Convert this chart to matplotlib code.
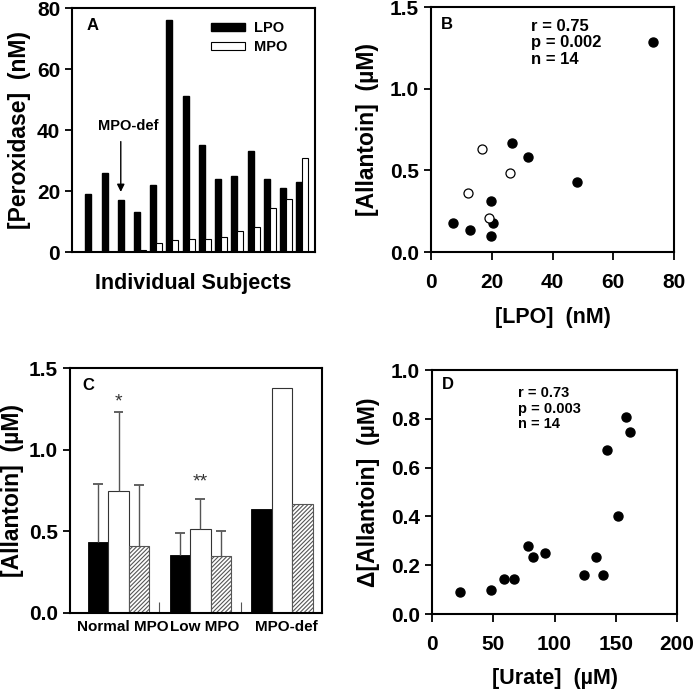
import matplotlib
matplotlib.use("Agg")
import matplotlib.pyplot as plt
import numpy as np

plt.rcParams['font.family'] = ['Liberation Sans', 'DejaVu Sans']
plt.rcParams['font.weight'] = 'bold'
plt.rcParams['hatch.color'] = '#444444'
plt.rcParams['hatch.linewidth'] = 0.8

# panel A: peroxidase per subject
lpo = [19, 26, 17, 13, 22, 76, 51, 35, 24, 25, 33, 24, 21, 23]
mpo = [0, 0, 0, 0.8, 3, 4, 4.2, 4.3, 4.8, 7, 8.2, 14.3, 17.5, 30.7]

# panel B: allantoin vs LPO
b_fill_x = [73.1, 26.8, 31.8, 48.1, 19.6, 7.3, 13.0, 20.4, 19.7]
b_fill_y = [1.285, 0.669, 0.579, 0.430, 0.313, 0.178, 0.133, 0.178, 0.098]
b_open_x = [16.9, 26.0, 12.3, 19.1]
b_open_y = [0.632, 0.481, 0.364, 0.209]

# panel C: allantoin by group
groups = ['Normal MPO', 'Low MPO', 'MPO-def']
c_black = [0.434, 0.356, 0.634]
c_white = [0.749, 0.516, 1.377]
c_hatch = [0.413, 0.346, 0.665]
c_black_err = [0.356, 0.135, 0]
c_white_err = [0.479, 0.184, 0]
c_hatch_err = [0.371, 0.155, 0]

# panel D: delta allantoin vs urate
d_x = [23.2, 48.0, 58.7, 66.8, 78.0, 82.1, 92.0, 124.1, 134.0, 139.2, 143.0, 151.7, 158.0, 161.3]
d_y = [0.089, 0.097, 0.145, 0.145, 0.280, 0.235, 0.250, 0.161, 0.235, 0.161, 0.671, 0.402, 0.806, 0.744]

W, H = 693, 691
fig = plt.figure(figsize=(W/100, H/100), dpi=100)

def px_axes(l, t, r, b):
    return fig.add_axes([l/W, 1-b/H, (r-l)/W, (b-t)/H])

def style(ax, xpad=3.5):
    for s in ax.spines.values():
        s.set_linewidth(1.5)
    ax.tick_params(width=1.3, length=5, labelsize=15)
    ax.tick_params(axis='x', length=6, pad=xpad)
    for lab in ax.get_xticklabels() + ax.get_yticklabels():
        lab.set_fontweight('bold')

# ---- A ----
axA = px_axes(72, 8, 315, 252)
xs = np.arange(len(lpo))
bw = 0.37
axA.bar(xs - bw/2, lpo, bw, color='black', edgecolor='black', label='LPO')
axA.bar(xs + bw/2, mpo, bw, color='white', edgecolor='black', linewidth=0.8, label='MPO')
axA.set_xlim(-1.19, 13.78)
axA.set_ylim(0, 80)
axA.set_yticks([0, 20, 40, 60, 80])
axA.set_xticks([])
style(axA)
axA.set_ylabel('[Peroxidase]  (nM)', fontsize=16.5, fontweight='bold', labelpad=4)
axA.set_xlabel('Individual Subjects', fontsize=15.5, fontweight='bold', labelpad=15)
axA.text(0.06, 0.93, 'A', transform=axA.transAxes, fontsize=12, fontweight='bold', va='center')
axA.text(2.3, 39, 'MPO-def', ha='center', va='bottom', fontsize=10.5, fontweight='bold')
axA.annotate('', xy=(2 - bw/2, 19.7), xytext=(2 - bw/2, 36.2),
             arrowprops=dict(arrowstyle='-|>', color='black', lw=1.0, mutation_scale=11,
                             shrinkA=0, shrinkB=0))
axA.legend(loc='upper left', bbox_to_anchor=(0.52, 1.0), frameon=False,
           handlelength=2.3, handleheight=0.55,
           labelspacing=0.35, handletextpad=0.6, prop={'weight': 'bold', 'size': 10.5})

# ---- B ----
axB = px_axes(431, 7, 674, 252)
axB.plot(b_fill_x, b_fill_y, 'o', color='black', markersize=6.5, linestyle='none')
axB.plot(b_open_x, b_open_y, 'o', markerfacecolor='white', markeredgecolor='black',
         markeredgewidth=0.9, markersize=6.5, linestyle='none')
axB.set_xlim(0, 80)
axB.set_ylim(0, 1.5)
axB.set_xticks([0, 20, 40, 60, 80])
axB.set_yticks([0.0, 0.5, 1.0, 1.5])
axB.set_yticklabels(['0.0', '0.5', '1.0', '1.5'])
style(axB, xpad=9)
axB.set_xlabel('[LPO]  (nM)', fontsize=15.5, fontweight='bold', labelpad=11)
axB.set_ylabel('[Allantoin]  (\u00b5M)', fontsize=16.5, fontweight='bold', labelpad=8)
axB.text(0.04, 0.93, 'B', transform=axB.transAxes, fontsize=12, fontweight='bold', va='center')
axB.text(0.41, 0.95, 'r = 0.75\np = 0.002\nn = 14', transform=axB.transAxes,
         fontsize=12, fontweight='bold', va='top', linespacing=1.1)

# ---- C ----
axC = px_axes(70, 368, 322, 613)
gx = np.arange(len(groups))
cw = 0.25
pos = [gx - cw, gx, gx + cw]
axC.bar(pos[0], c_black, cw, color='black', edgecolor='black', linewidth=0.6)
axC.bar(pos[1], c_white, cw, color='white', edgecolor='#333333', linewidth=0.8)
axC.bar(pos[2], c_hatch, cw, color='white', edgecolor='#555555', linewidth=0.8, hatch='////////')
cap = 0.06
for p, v, e in zip(pos, [c_black, c_white, c_hatch], [c_black_err, c_white_err, c_hatch_err]):
    v = np.array(v); e = np.array(e)
    m = e > 0
    axC.vlines(p[m], v[m], v[m] + e[m], color='#555555', lw=1.0)
    axC.hlines(v[m] + e[m], p[m] - cap, p[m] + cap, color='#555555', lw=1.3)
axC.text(0, 1.29, '*', ha='center', va='center', fontsize=14, fontweight='normal', color='#333333')
axC.text(1, 0.80, '**', ha='center', va='center', fontsize=14, fontweight='normal', color='#333333')
axC.set_xlim(-0.593, 2.488)
axC.set_ylim(0, 1.5)
axC.set_yticks([0.0, 0.5, 1.0, 1.5])
axC.set_yticklabels(['0.0', '0.5', '1.0', '1.5'])
axC.set_xticks([0.5, 1.5])
axC.set_xticklabels([])
style(axC)
axC.tick_params(axis='x', direction='in', length=8, width=0.8, colors='#555555')
axC.spines['bottom'].set_color('black')
for g, lab in zip(gx, groups):
    axC.text(g + 0.05, -0.04, lab, ha='center', va='top', fontsize=11, fontweight='bold')
axC.set_ylabel('[Allantoin]  (\u00b5M)', fontsize=16.5, fontweight='bold', labelpad=4)
axC.text(0.05, 0.93, 'C', transform=axC.transAxes, fontsize=12, fontweight='bold', va='center')

# ---- D ----
axD = px_axes(432, 370, 677, 614)
axD.plot(d_x, d_y, 'o', color='black', markersize=6.5, linestyle='none')
axD.set_xlim(0, 200)
axD.set_ylim(0, 1.0)
axD.set_xticks([0, 50, 100, 150, 200])
axD.set_yticks([0.0, 0.2, 0.4, 0.6, 0.8, 1.0])
axD.set_yticklabels(['0.0', '0.2', '0.4', '0.6', '0.8', '1.0'])
style(axD, xpad=9)
axD.set_xlabel('[Urate]  (\u00b5M)', fontsize=15.5, fontweight='bold', labelpad=10)
axD.set_ylabel('\u0394[Allantoin]  (\u00b5M)', fontsize=16.5, fontweight='bold', labelpad=8)
axD.text(0.04, 0.94, 'D', transform=axD.transAxes, fontsize=12, fontweight='bold', va='center')
axD.text(0.35, 0.935, 'r = 0.73\np = 0.003\nn = 14', transform=axD.transAxes,
         fontsize=10.5, fontweight='bold', va='top', linespacing=1.15)

fig.savefig('out.png', dpi=100)
